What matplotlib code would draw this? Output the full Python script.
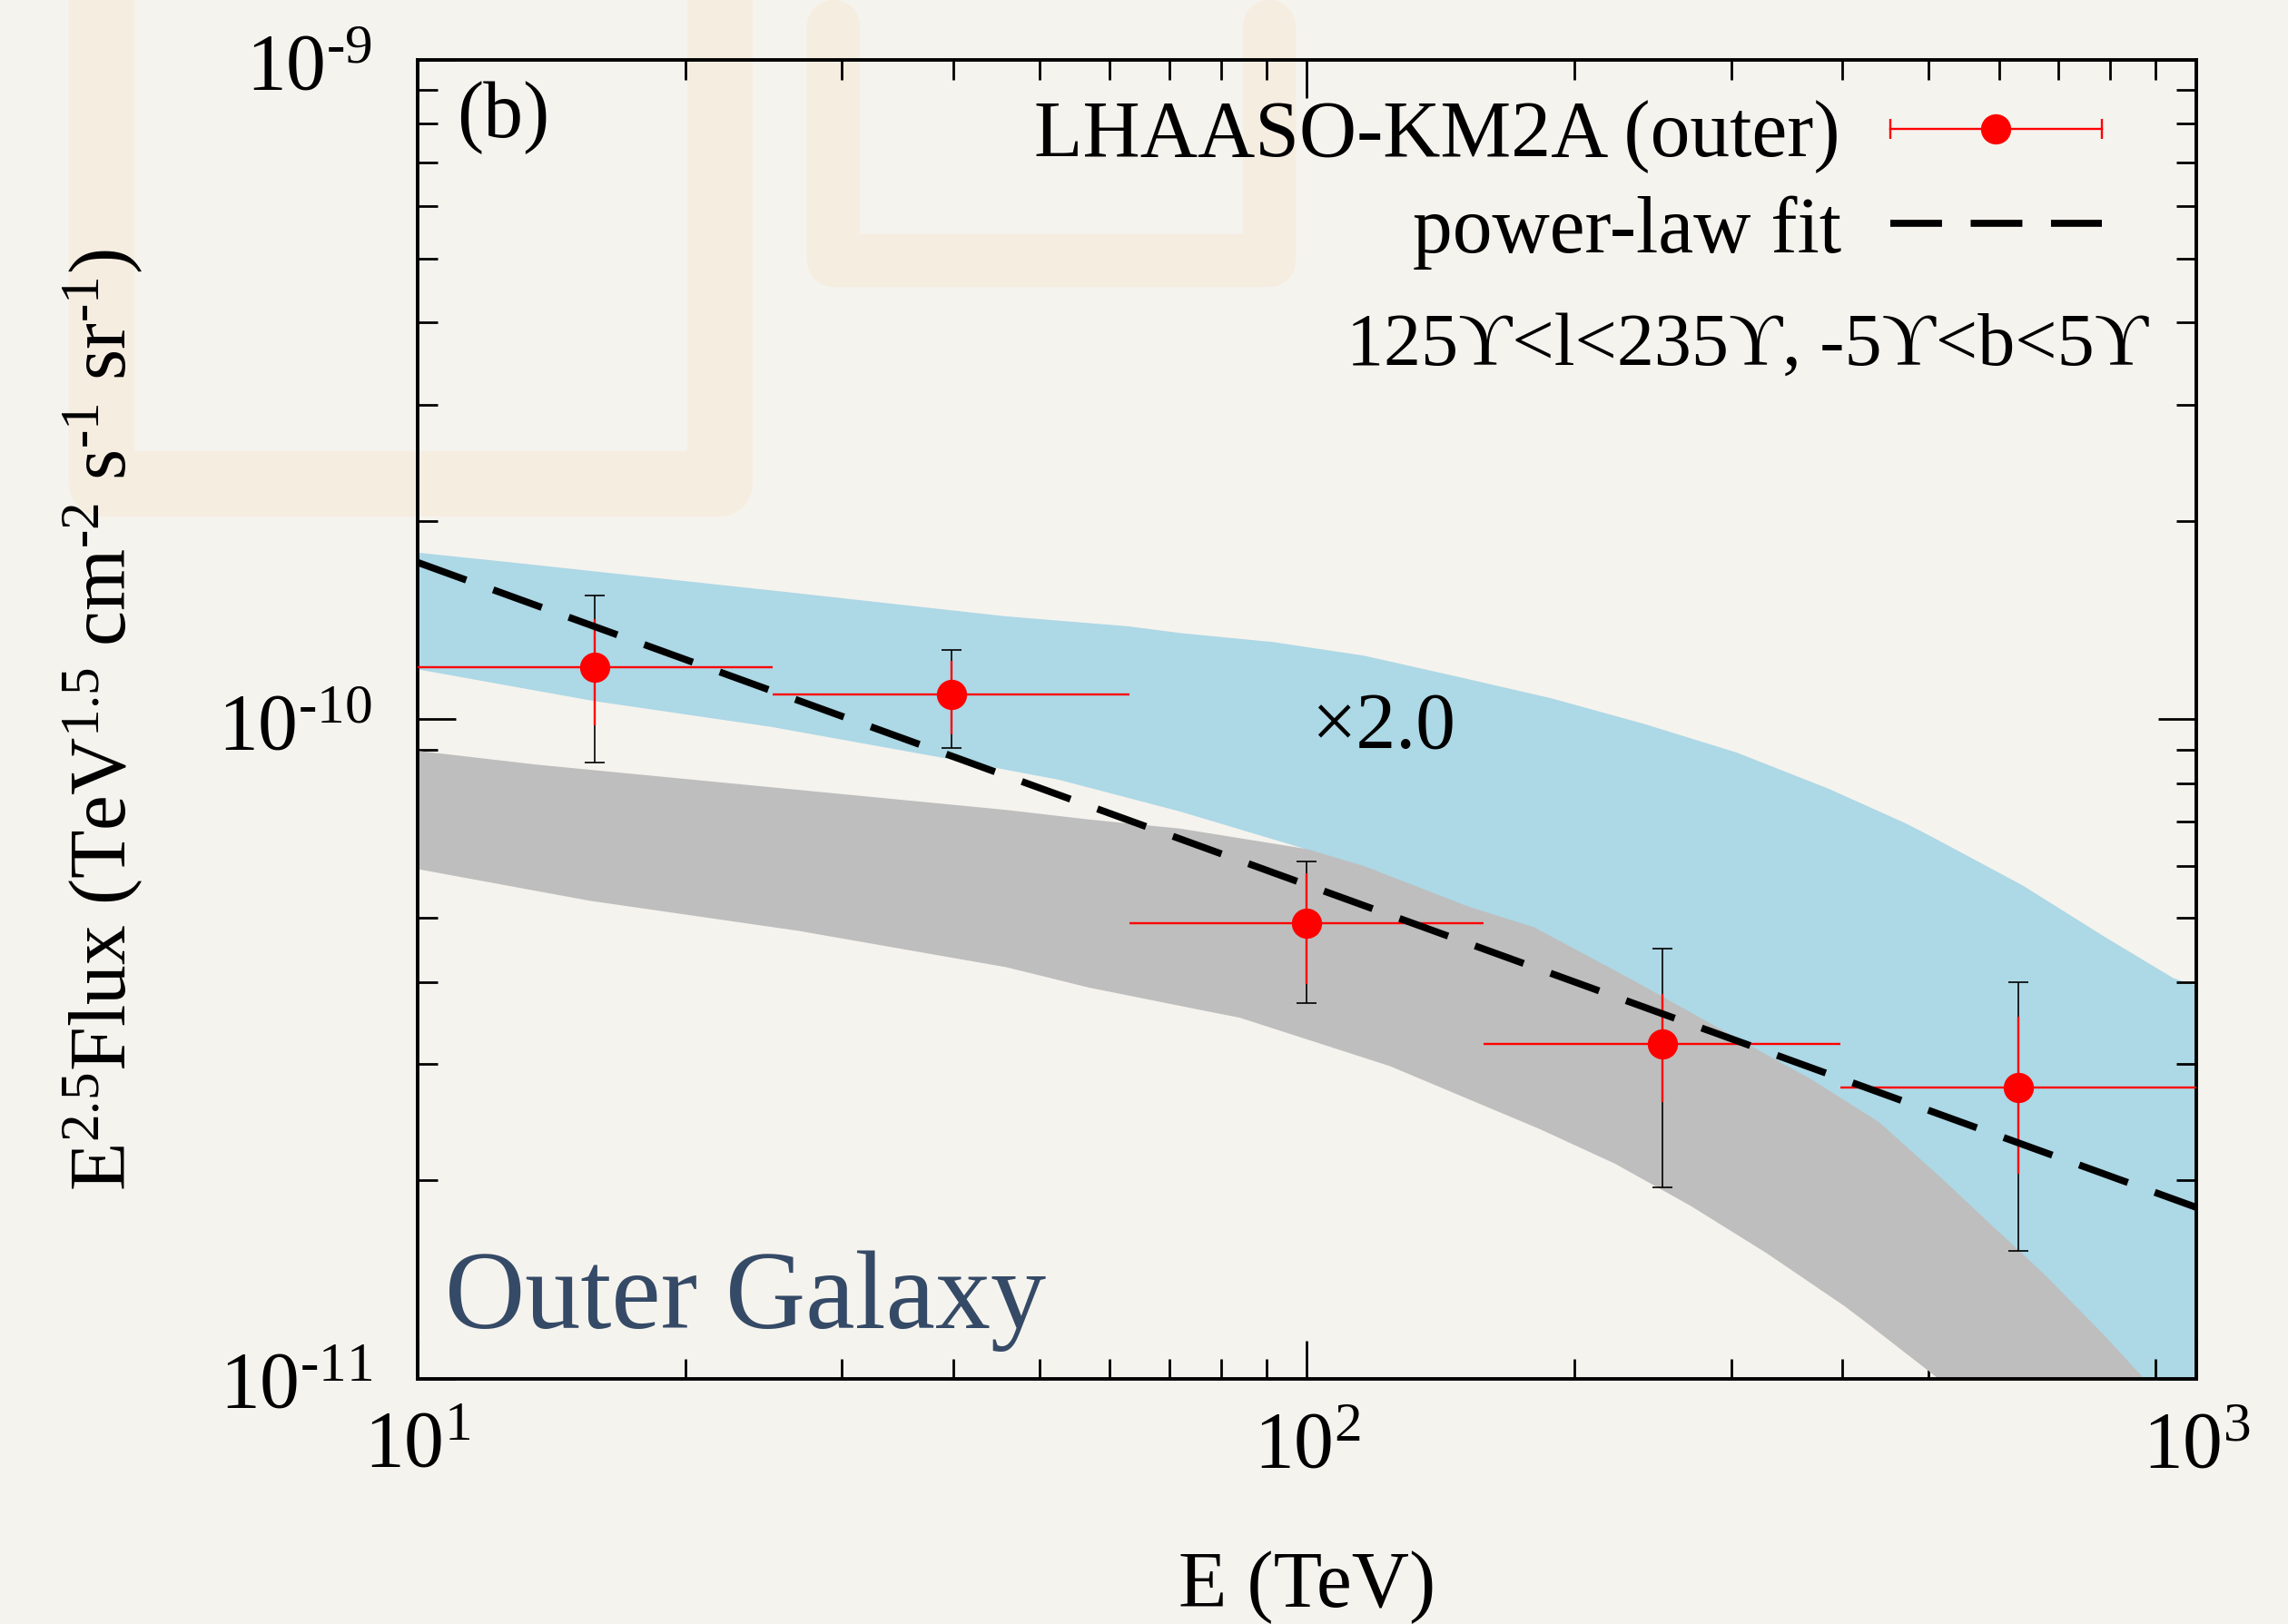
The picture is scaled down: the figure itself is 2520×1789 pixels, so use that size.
import numpy as np
import matplotlib

matplotlib.use("Agg")
import matplotlib.pyplot as plt  # noqa: E402
from matplotlib.lines import Line2D  # noqa: E402
from matplotlib.ticker import FixedLocator, FuncFormatter, LogLocator, NullFormatter  # noqa: E402

# KM2A outer-Galaxy points (E^2.5 * flux), energies in TeV
E_CENTER = [15.8, 39.8, 100.0, 251.0, 631.0]
E_EDGES = [10.0, 25.1, 63.1, 158.0, 398.0, 1000.0]
FLUX = [1.20e-10, 1.09e-10, 4.91e-11, 3.22e-11, 2.77e-11]
# statistical (red) and total (black) error-bar ends
STAT_HI = [1.42e-10, 1.228e-10, 5.85e-11, 3.83e-11, 3.54e-11]
STAT_LO = [0.98e-10, 0.949e-10, 3.97e-11, 2.63e-11, 2.05e-11]
TOT_HI = [1.54e-10, 1.273e-10, 6.09e-11, 4.49e-11, 4.00e-11]
TOT_LO = [0.859e-10, 0.906e-10, 3.71e-11, 1.954e-11, 1.563e-11]

# power-law fit, straight on log-log: end points
FIT_E = [10.0, 1000.0]
FIT_F = [1.73e-10, 1.82e-11]

# model band scaled x2.0 (light blue)
BLUE_UP_E = [10, 12.6, 26, 45.9, 63, 72, 91.6, 116, 148, 188, 239, 304, 386, 472, 505, 638, 791, 943, 1000]
BLUE_UP_F = [1.79e-10, 1.733e-10, 1.56e-10, 1.433e-10, 1.384e-10, 1.352e-10, 1.31e-10, 1.249e-10,
             1.16e-10, 1.077e-10, 9.85e-11, 8.91e-11, 7.85e-11, 6.95e-11, 6.63e-11, 5.6e-11,
             4.67e-11, 4.05e-11, 3.95e-11]
BLUE_LO_E = [10, 15.8, 25, 38.5, 52.6, 72, 100, 150, 200, 300, 400, 500, 700, 1000]
BLUE_LO_F = [1.191e-10, 1.066e-10, 9.74e-11, 8.77e-11, 8.1e-11, 7.25e-11, 6.35e-11, 4.6e-11,
             3.8e-11, 2.8e-11, 2.2e-11, 1.7e-11, 1.1e-11, 6e-12]

# unscaled model band (gray)
GRAY_UP_E = [10, 13.6, 25, 45.9, 56.9, 72, 100, 116, 152, 180, 232, 305, 370, 440, 516, 590, 675,
             790, 870, 1000]
GRAY_UP_F = [8.96e-11, 8.54e-11, 7.89e-11, 7.29e-11, 7.05e-11, 6.83e-11, 6.36e-11, 5.99e-11,
             5.2e-11, 4.84e-11, 4.03e-11, 3.28e-11, 2.84e-11, 2.45e-11, 2.02e-11, 1.705e-11,
             1.44e-11, 1.16e-11, 1.007e-11, 8.0e-12]
GRAY_LO_E = [10, 15.6, 26.8, 45.9, 56.9, 75.6, 84, 124, 183, 222, 270, 329, 402, 428, 510, 600, 1000]
GRAY_LO_F = [5.93e-11, 5.31e-11, 4.78e-11, 4.21e-11, 3.92e-11, 3.63e-11, 3.53e-11, 2.98e-11,
             2.39e-11, 2.12e-11, 1.83e-11, 1.55e-11, 1.29e-11, 1.21e-11, 1.007e-11, 8.3e-12, 4e-12]

BG = "#F5F3EE"
DECOR = "#F6EDE1"
FS = 31.5
HY = "\u2010"  # short hyphen for exponents, mathtext would turn '-' into a long minus

plt.rcParams["font.family"] = ["Liberation Serif", "DejaVu Serif"]
plt.rcParams["mathtext.fontset"] = "custom"
plt.rcParams["mathtext.rm"] = "Liberation Serif"
plt.rcParams["mathtext.it"] = "Liberation Serif:italic"
plt.rcParams["mathtext.bf"] = "Liberation Serif:bold"

fig = plt.figure(figsize=(12.6, 8.95), dpi=200, facecolor=BG)
ax = fig.add_axes([0.18254, 0.15084, 0.77738, 0.81173])
ax.set_facecolor("none")
ax.set_zorder(2)


def px(x, y):
    """figure pixel (from top-left) -> figure fraction"""
    return x / 2520, 1 - y / 1790


# faint lattice ornament in the paper background
for path, lw in (
    ([(112, -80), (112, 534), (793, 534), (793, -80)], 26),
    ([(918, 30), (918, 288), (1398, 288), (1398, 30)], 21),
    ([(670, -2), (1484, -2)], 25),
):
    xs, ys = zip(*[px(x, y) for x, y in path])
    fig.add_artist(Line2D(xs, ys, transform=fig.transFigure, color=DECOR, lw=lw,
                          solid_joinstyle="round", solid_capstyle="round", zorder=0))

# bands: upper edge out, lower edge back
ax.fill(np.r_[BLUE_UP_E, BLUE_LO_E[::-1]], np.r_[BLUE_UP_F, BLUE_LO_F[::-1]],
        color="#ADD8E6", lw=0, zorder=1)
ax.fill(np.r_[GRAY_UP_E, GRAY_LO_E[::-1]], np.r_[GRAY_UP_F, GRAY_LO_F[::-1]],
        color="#BEBEBE", lw=0, zorder=2)

e = np.array(E_CENTER)
f = np.array(FLUX)
edges = np.array(E_EDGES)
ax.errorbar(e, f, yerr=[f - np.array(TOT_LO), np.array(TOT_HI) - f], fmt="none",
            ecolor="black", elinewidth=0.6, capsize=4, capthick=0.6, zorder=3)
ax.errorbar(e, f, xerr=[e - edges[:-1], edges[1:] - e],
            yerr=[f - np.array(STAT_LO), np.array(STAT_HI) - f],
            fmt="o", color="red", ms=12, mew=0, elinewidth=0.85, capsize=4, capthick=0.85,
            zorder=4)

ax.plot(FIT_E, FIT_F, color="black", lw=2.77, dashes=(7.4, 4.1), zorder=5)

ax.set_xscale("log")
ax.set_yscale("log")
ax.set_xlim(10, 1000)
ax.set_ylim(1e-11, 1e-9)


def dec(v, pos):
    n = int(round(np.log10(v)))
    s = str(n).replace("-", HY)
    return rf"$10^{{{s}}}$"


ax.xaxis.set_major_locator(FixedLocator([10, 100, 1000]))
ax.yaxis.set_major_locator(FixedLocator([1e-11, 1e-10, 1e-9]))
ax.xaxis.set_major_formatter(FuncFormatter(dec))
ax.yaxis.set_major_formatter(FuncFormatter(dec))
for axis in (ax.xaxis, ax.yaxis):
    axis.set_minor_locator(LogLocator(base=10, subs=np.arange(2, 10)))
    axis.set_minor_formatter(NullFormatter())

ax.tick_params(which="both", direction="in", top=True, right=True, width=1.0,
               labelsize=FS, colors="black")
ax.tick_params(which="major", length=15)
ax.tick_params(which="minor", length=8)
ax.tick_params(axis="x", which="major", pad=12)
ax.tick_params(axis="y", which="major", pad=18)
for sp in ax.spines.values():
    sp.set_linewidth(1.4)

ax.set_xlabel("E (TeV)", fontsize=FS)
ax.xaxis.set_label_coords(0.5, -0.1294)
ax.set_ylabel(rf"E$^{{2.5}}$Flux (TeV$^{{1.5}}$ cm$^{{{HY}2}}$ s$^{{{HY}1}}$ sr$^{{{HY}1}}$)",
              fontsize=FS)
ax.yaxis.set_label_coords(-0.1537, 0.5)

# key, drawn in axes fraction
ax.text(0.7999, 0.9279, "LHAASO-KM2A (outer)", transform=ax.transAxes, fontsize=FS,
        ha="right", va="baseline")
ax.text(0.8007, 0.8546, "power-law fit", transform=ax.transAxes, fontsize=FS,
        ha="right", va="baseline")
ax.text(0.9729, 0.7697, "125ϒ<l<235ϒ, -5ϒ<b<5ϒ", transform=ax.transAxes, fontsize=29.5,
        ha="right", va="baseline")
ax.plot([0.828, 0.947], [0.9479, 0.9479], transform=ax.transAxes, color="red", lw=0.85,
        marker="|", ms=8, mew=0.85, zorder=6, clip_on=False)
ax.plot([0.8872], [0.9479], transform=ax.transAxes, color="red", marker="o", ms=12, mew=0,
        zorder=6, clip_on=False)
ax.plot([0.828, 0.947], [0.8759, 0.8759], transform=ax.transAxes, color="black", lw=2.77,
        dashes=(7.4, 4.1), zorder=6, clip_on=False)

ax.text(0.022, 0.985, "(b)", transform=ax.transAxes, fontsize=FS, ha="left", va="top")
ax.text(101, 9.1e-11, "×2.0", fontsize=FS, ha="left", va="baseline", zorder=6)
ax.text(0.0153, 0.0392, "Outer Galaxy", transform=ax.transAxes, fontsize=44,
        color="#354A66", ha="left", va="baseline", zorder=6)

fig.savefig("out.png", dpi=200, facecolor=BG)
